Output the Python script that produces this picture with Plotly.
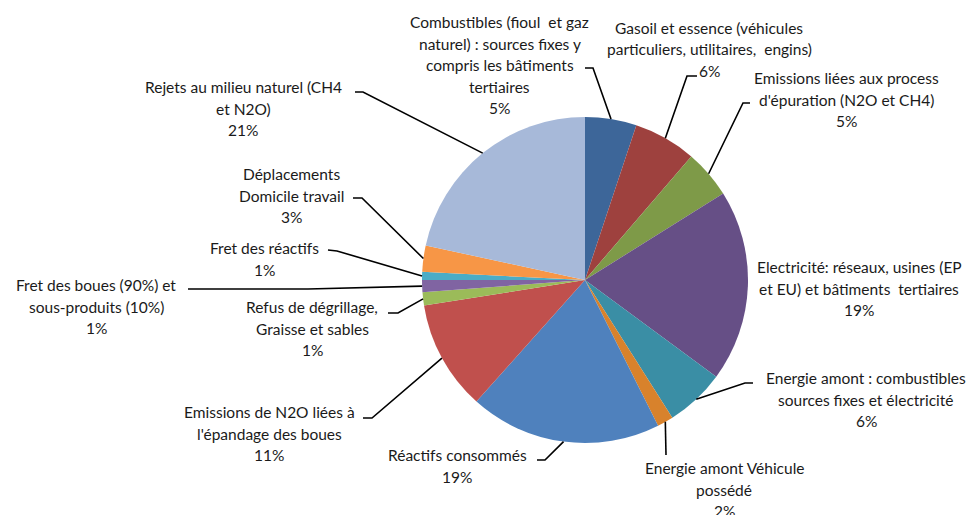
import math
import plotly.graph_objects as go

# page body has an 8px margin: the figure is placed at (8, 8) in the window
OFF = 8
W, H = 974 - OFF, 515 - OFF

categories = [
    "Combustibles (fioul et gaz naturel) : sources fixes y compris les bâtiments tertiaires",
    "Gasoil et essence (véhicules particuliers, utilitaires, engins)",
    "Emissions liées aux process d'épuration (N2O et CH4)",
    "Electricité: réseaux, usines (EP et EU) et bâtiments tertiaires",
    "Energie amont : combustibles sources fixes et électricité",
    "Energie amont Véhicule possédé",
    "Réactifs consommés",
    "Emissions de N2O liées à l'épandage des boues",
    "Refus de dégrillage, Graisse et sables",
    "Fret des boues (90%) et sous-produits (10%)",
    "Fret des réactifs",
    "Déplacements Domicile travail",
    "Rejets au milieu naturel (CH4 et N2O)",
]
values = [5.1, 6.2, 4.8, 19.0, 5.9, 1.6, 19.0, 10.9, 1.3, 1.2, 0.8, 2.6, 21.6]
pct_labels = ["5%", "6%", "5%", "19%", "6%", "2%", "19%", "11%", "1%", "1%", "1%", "3%", "21%"]
label_lines = [
    ["Combustibles (fioul  et gaz", "naturel) : sources fixes y", "compris les bâtiments", "tertiaires"],
    ["Gasoil et essence (véhicules", "particuliers, utilitaires,  engins)"],
    ["Emissions liées aux process", "d'épuration (N2O et CH4)"],
    ["Electricité: réseaux, usines (EP", "et EU) et bâtiments  tertiaires"],
    ["Energie amont : combustibles", "sources fixes et électricité"],
    ["Energie amont Véhicule", "possédé"],
    ["Réactifs consommés"],
    ["Emissions de N2O liées à", "l'épandage des boues"],
    ["Refus de dégrillage,", "Graisse et sables"],
    ["Fret des boues (90%) et", "sous-produits (10%)"],
    ["Fret des réactifs"],
    ["Déplacements", "Domicile travail"],
    ["Rejets au milieu naturel (CH4", "et N2O)"],
]
colors = ["#3D6699", "#9E413E", "#7E9A48", "#664F86", "#3A8EA5", "#D8822C",
          "#4F81BD", "#C0504D", "#9BBB59", "#8064A2", "#4BACC6", "#F79646", "#A7B9D9"]

# layout (window pixel) positions of labels: center x, first-line center y
label_pos = [(500, 22), (709, 28), (846, 78), (859, 267), (866, 378), (724, 468),
             (457, 455), (269, 412), (312, 307), (96, 285), (264, 248), (291, 174), (243, 87)]
# leader line start/elbow points (window pixels); None = no leader
leader_pts = [
    [(585, 68), (593, 68)],
    [(697, 76), (687, 76)],
    [(750, 103), (743, 103)],
    None,
    [(753, 383), (745, 383)],
    [(666, 455)],
    [(537, 460), (545, 460)],
    [(363, 418), (372, 418)],
    [(388, 313), (398, 313)],
    [(188, 289), (308, 289)],
    [(328, 250), (337, 251)],
    [(353, 198), (362, 198)],
    [(355, 92), (363, 92)],
]

CX, CY, R = 585, 280, 163
LINE_H = 21.5
FONT = "Lato"
FSIZE = 15.5


def px(x):
    return (x - OFF) / W


def py(y):
    return 1 - (y - OFF) / H


fig = go.Figure(go.Pie(
    labels=categories, values=values, sort=False, direction="clockwise", rotation=0,
    marker=dict(colors=colors, line=dict(width=0)), textinfo="none", hoverinfo="label+percent",
    domain=dict(x=[px(CX - R), px(CX + R)], y=[py(CY + R), py(CY - R)]),
    showlegend=False,
))

annotations = []
shapes = []
total = sum(values)
cum = 0.0
for i, v in enumerate(values):
    mid = (cum + v / 2) / total * 2 * math.pi
    cum += v
    ex = CX + R * math.sin(mid)
    ey = CY - R * math.cos(mid)
    lines = label_lines[i] + [pct_labels[i]]
    lx, ly = label_pos[i]
    for k, t in enumerate(lines):
        annotations.append(dict(
            x=px(lx), y=py(ly + k * LINE_H), xref="paper", yref="paper",
            text=t, showarrow=False, xanchor="center", yanchor="middle",
            font=dict(family=FONT, size=FSIZE, color="#1a1a1a"),
        ))
    if leader_pts[i] is not None:
        pts = leader_pts[i] + [(ex, ey)]
        path = "M " + " L ".join(f"{px(a):.5f},{py(b):.5f}" for a, b in pts)
        shapes.append(dict(type="path", path=path, xref="paper", yref="paper",
                           line=dict(color="black", width=1.6)))

fig.update_layout(
    width=W, height=H, margin=dict(l=0, r=0, t=0, b=0),
    paper_bgcolor="white", plot_bgcolor="white",
    annotations=annotations, shapes=shapes,
)
fig.write_html("out.html")
